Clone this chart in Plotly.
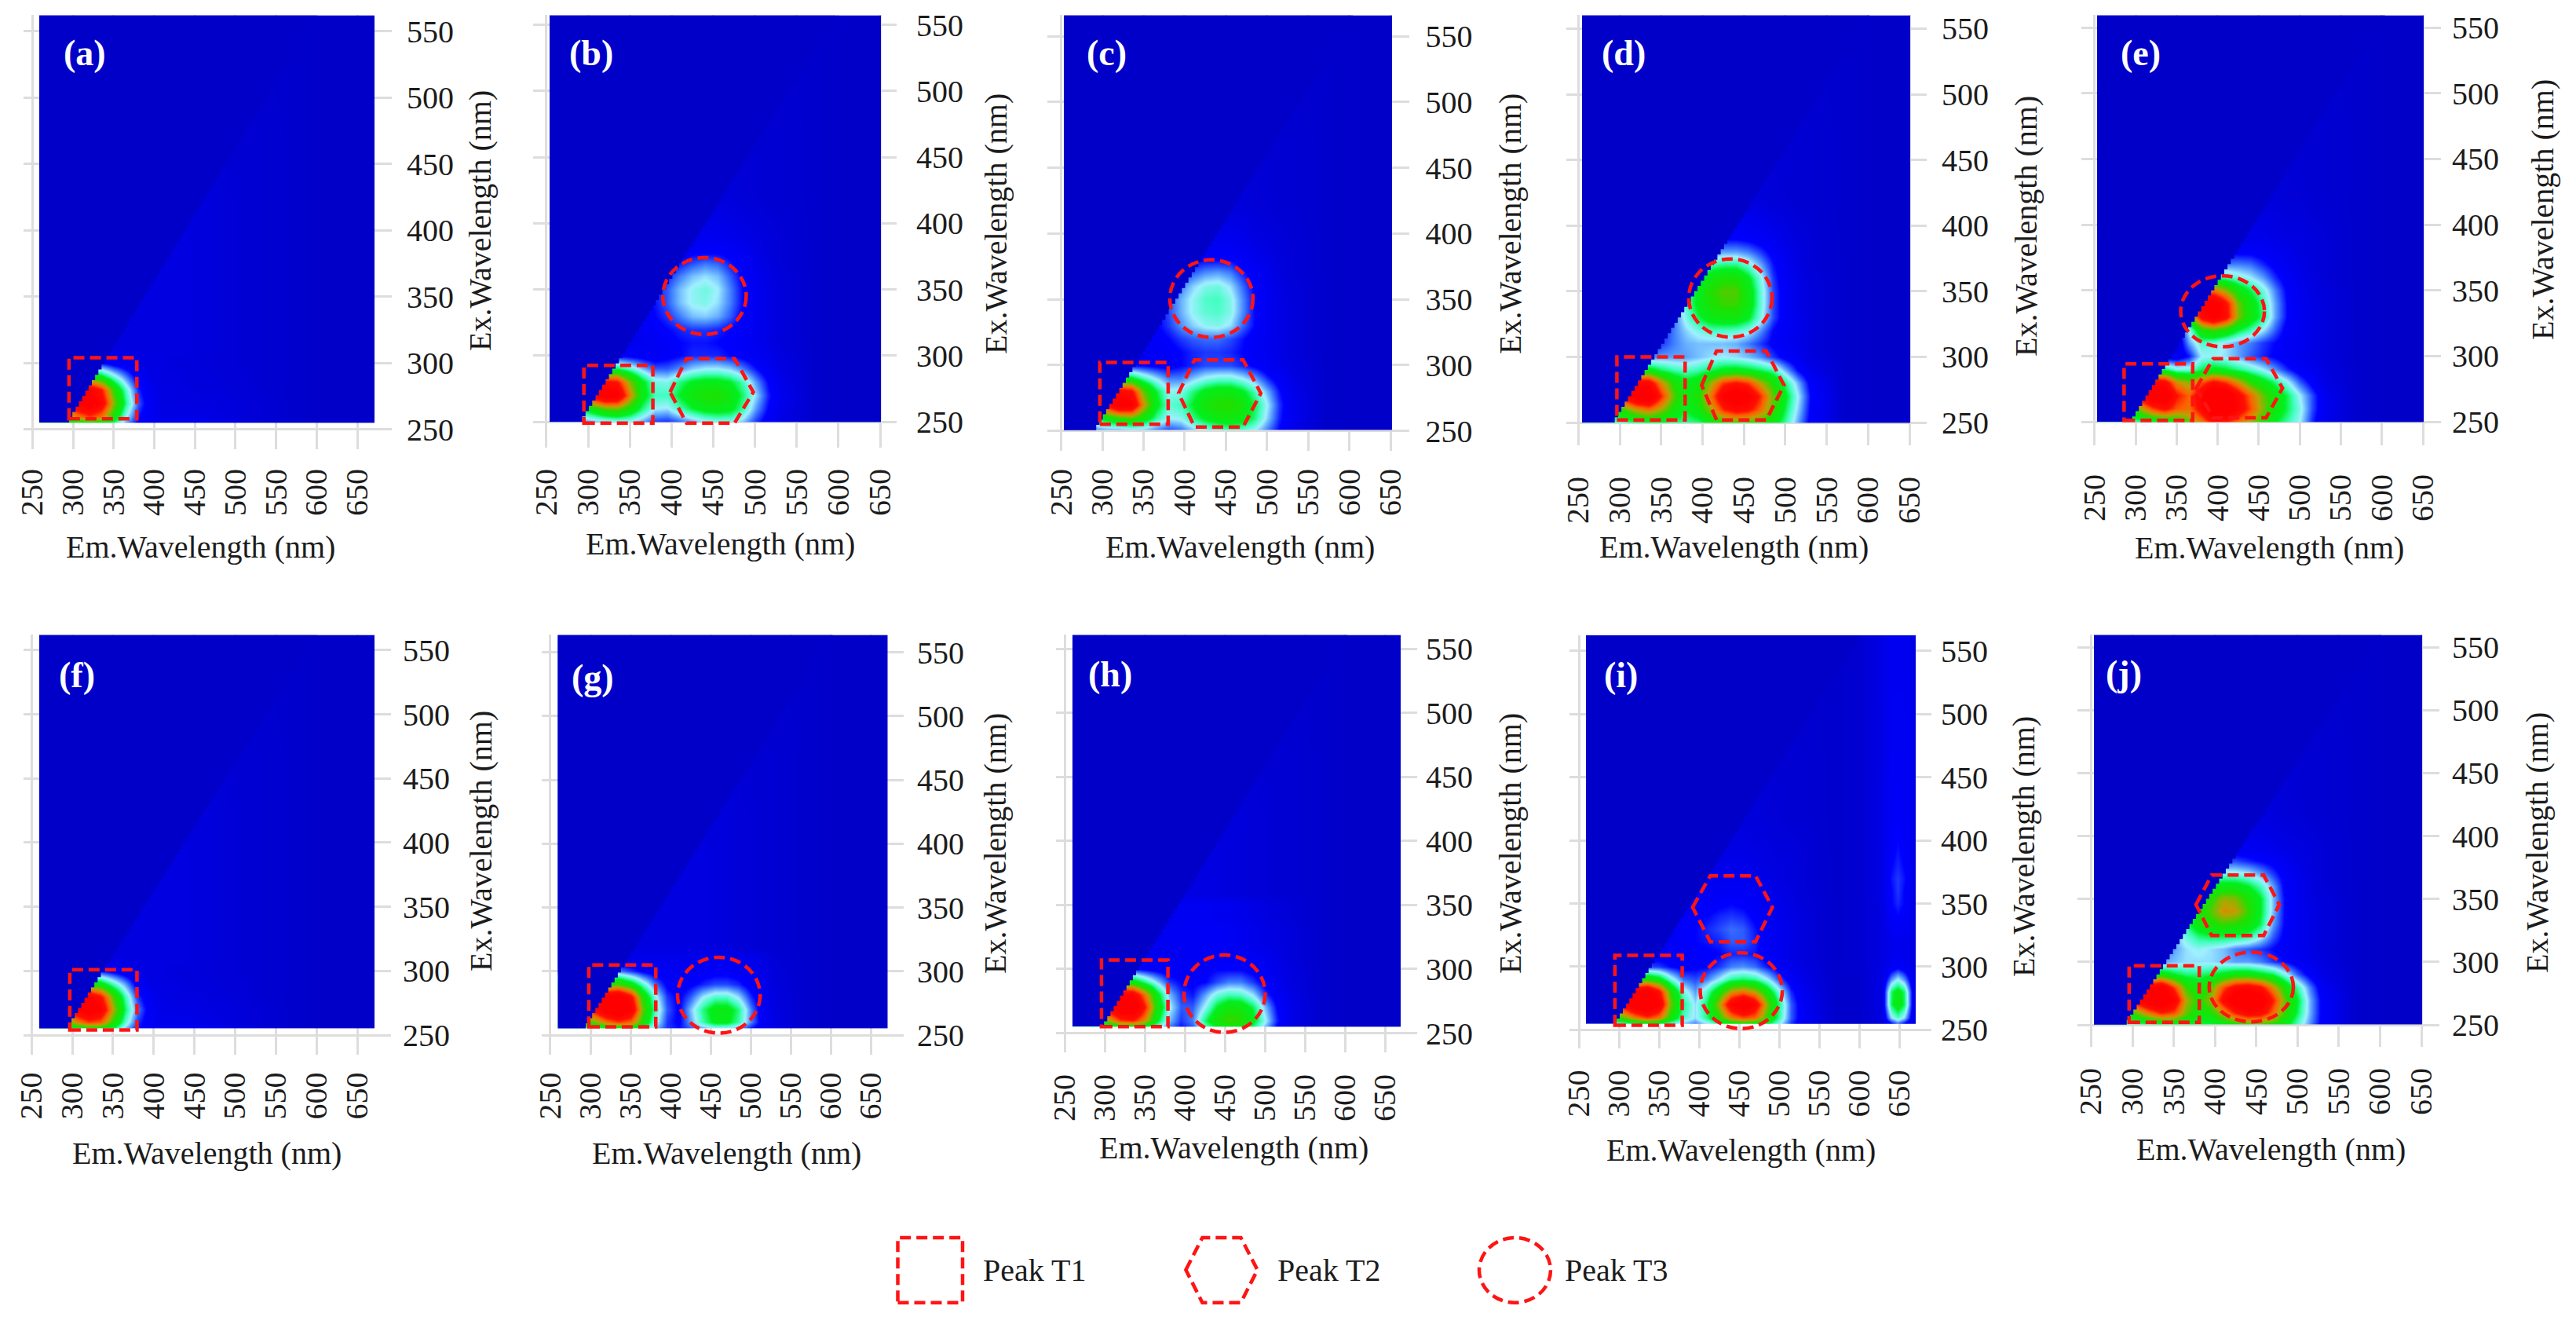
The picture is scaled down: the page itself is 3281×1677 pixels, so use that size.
import plotly.graph_objects as go

W, H = 3281, 1677
PANEL_LETTERS = ["a", "b", "c", "d", "e", "f", "g", "h", "i", "j"]
EM_TICKS = [250, 300, 350, 400, 450, 500, 550, 600, 650]
EX_TICKS = [250, 300, 350, 400, 450, 500, 550]
X_TITLE = "Em.Wavelength (nm)"
Y_TITLE = "Ex.Wavelength (nm)"
LEGEND_LABELS = ["Peak T1", "Peak T2", "Peak T3"]

# Fluorescence intensity. Columns: EM_GRID, rows: EX_GRID (bottom up).
EM_GRID = [290, 305, 320, 335, 350, 365, 380, 395, 410, 425, 440, 455, 470, 485, 500, 515, 530]
EX_GRID = [250, 260, 270, 280, 290, 300, 310, 320, 330, 340, 350, 360, 370, 380, 390]
EX_OUTER = [420, 470]
BG_LOW = [3, 3, 4, 5, 5, 5, 5, 5, 5, 5, 5, 4, 4, 3, 3, 2, 2]
BG_420 = [0, 0, 0, 1, 2, 2, 3, 4, 4, 4, 4, 4, 4, 3, 3, 2, 2]
BG_470 = [0, 0, 0, 0, 0, 0, 1, 1, 2, 2, 2, 3, 3, 3, 2, 2, 2]
BG_TOP = [0, 0, 0, 0, 0, 0, 0, 0, 0, 0, 1, 1, 1, 1, 1, 1, 1]
EM_RIGHT = [570, 610]
Z_RIGHT = [1, 0]

Z_A = [
    [40, 42, 45, 44, 35, 22, 12, 8, 8, 9, 9, 8, 7, 6, 5, 4, 3],
    [55, 70, 80, 72, 48, 28, 14, 8, 6, 6, 6, 6, 5, 5, 4, 3, 3],
    [75, 100, 110, 95, 60, 36, 18, 9, 5, 5, 5, 5, 5, 4, 4, 3, 3],
    [70, 95, 100, 85, 52, 32, 15, 8, 5, 5, 5, 4, 4, 4, 3, 3, 2],
    [40, 45, 50, 42, 30, 20, 10, 6, 5, 5, 4, 4, 4, 3, 3, 3, 2],
    [15, 15, 15, 14, 10, 8, 6, 5, 5, 4, 4, 4, 3, 3, 3, 2, 2],
]
Z_B = [
    [20, 22, 24, 26, 26, 22, 16, 15, 18, 22, 26, 28, 28, 24, 16, 10, 6],
    [38, 46, 56, 58, 48, 36, 27, 26, 33, 39, 43, 44, 42, 34, 22, 13, 7],
    [66, 92, 108, 104, 70, 44, 33, 33, 40, 47, 50, 51, 46, 37, 26, 15, 8],
    [56, 76, 90, 86, 60, 42, 30, 29, 36, 41, 43, 43, 40, 33, 22, 13, 7],
    [30, 34, 37, 38, 32, 24, 18, 18, 21, 25, 27, 27, 25, 20, 14, 9, 6],
    [10, 11, 11, 12, 11, 10, 9, 11, 13, 15, 15, 15, 13, 11, 9, 7, 5],
    [6, 6, 6, 7, 8, 8, 9, 11, 13, 14, 14, 13, 12, 10, 8, 6, 4],
    [5, 5, 6, 7, 8, 9, 11, 13, 15, 16, 16, 15, 13, 10, 8, 6, 4],
    [5, 5, 6, 7, 8, 10, 13, 16, 20, 24, 25, 23, 18, 12, 8, 6, 4],
    [5, 5, 6, 7, 8, 10, 14, 18, 24, 28, 29, 26, 20, 13, 8, 6, 4],
    [5, 5, 6, 6, 8, 10, 14, 18, 24, 28, 30, 27, 20, 13, 8, 6, 4],
    [4, 5, 5, 6, 7, 9, 12, 15, 20, 24, 26, 24, 18, 12, 8, 5, 4],
    [4, 4, 5, 5, 6, 8, 10, 11, 14, 17, 19, 18, 14, 10, 7, 5, 3],
    [4, 4, 4, 5, 5, 6, 7, 8, 10, 11, 11, 11, 10, 8, 6, 4, 3],
    [3, 4, 4, 4, 5, 5, 6, 6, 7, 8, 8, 8, 7, 6, 5, 4, 3],
]
Z_C = [
    [20, 22, 22, 24, 24, 20, 17, 19, 24, 28, 31, 33, 31, 27, 20, 13, 7],
    [36, 44, 52, 56, 46, 35, 27, 28, 35, 41, 45, 46, 44, 36, 25, 15, 8],
    [64, 88, 106, 102, 68, 43, 31, 33, 40, 48, 52, 53, 48, 38, 27, 16, 8],
    [58, 80, 94, 88, 58, 40, 28, 29, 36, 42, 45, 45, 41, 33, 23, 14, 7],
    [34, 37, 41, 41, 33, 26, 20, 20, 24, 28, 30, 30, 27, 22, 15, 10, 6],
    [13, 13, 14, 14, 13, 12, 11, 13, 15, 17, 17, 17, 15, 12, 9, 7, 5],
    [6, 6, 7, 8, 9, 10, 11, 13, 15, 16, 16, 15, 13, 10, 8, 6, 4],
    [5, 5, 6, 7, 9, 11, 13, 16, 18, 19, 19, 17, 14, 10, 8, 6, 4],
    [5, 5, 6, 7, 9, 12, 16, 21, 25, 28, 29, 26, 19, 13, 8, 6, 4],
    [5, 5, 6, 7, 9, 12, 17, 23, 28, 31, 32, 29, 21, 13, 8, 6, 4],
    [5, 5, 6, 7, 9, 12, 17, 23, 28, 32, 33, 29, 21, 13, 8, 6, 4],
    [4, 5, 5, 6, 8, 11, 15, 20, 25, 29, 30, 26, 19, 12, 8, 5, 4],
    [4, 4, 5, 5, 7, 9, 12, 15, 18, 21, 22, 20, 15, 10, 7, 5, 3],
    [4, 4, 4, 5, 6, 7, 8, 10, 12, 13, 13, 13, 10, 8, 6, 4, 3],
    [3, 4, 4, 4, 5, 5, 6, 7, 8, 9, 9, 9, 8, 6, 5, 4, 3],
]
Z_D = [
    [30, 32, 36, 38, 38, 36, 34, 36, 42, 50, 52, 52, 50, 44, 34, 22, 11],
    [44, 54, 66, 72, 62, 48, 40, 46, 62, 82, 92, 88, 74, 54, 38, 25, 12],
    [72, 90, 108, 112, 82, 56, 44, 50, 72, 100, 112, 104, 82, 58, 41, 27, 13],
    [60, 78, 96, 94, 68, 50, 42, 46, 62, 80, 86, 80, 64, 50, 36, 23, 11],
    [34, 38, 44, 44, 38, 34, 32, 34, 38, 42, 43, 41, 38, 34, 23, 13, 7],
    [14, 16, 18, 20, 22, 22, 22, 24, 26, 27, 26, 24, 21, 16, 11, 8, 5],
    [8, 9, 10, 13, 16, 20, 23, 24, 24, 24, 23, 20, 16, 12, 9, 7, 4],
    [6, 7, 9, 12, 14, 20, 25, 29, 32, 32, 31, 28, 21, 13, 9, 7, 4],
    [6, 6, 8, 10, 13, 19, 29, 38, 44, 46, 46, 41, 29, 17, 10, 7, 4],
    [5, 6, 8, 10, 13, 20, 32, 42, 50, 54, 54, 46, 31, 17, 10, 6, 4],
    [5, 6, 8, 10, 13, 20, 32, 42, 52, 56, 56, 46, 31, 17, 10, 6, 4],
    [5, 5, 7, 9, 12, 18, 28, 38, 46, 50, 50, 42, 29, 16, 9, 6, 4],
    [4, 5, 6, 8, 10, 15, 21, 28, 34, 36, 36, 31, 23, 14, 9, 5, 3],
    [4, 4, 5, 6, 8, 10, 14, 17, 20, 22, 22, 20, 16, 11, 7, 5, 3],
    [3, 4, 4, 5, 6, 7, 9, 11, 12, 13, 13, 12, 10, 8, 6, 4, 3],
]
Z_E = [
    [30, 34, 38, 40, 44, 56, 70, 88, 84, 72, 62, 50, 40, 34, 27, 15, 7],
    [46, 60, 78, 88, 76, 72, 92, 115, 112, 95, 78, 60, 46, 38, 29, 17, 8],
    [72, 95, 112, 112, 86, 74, 98, 118, 112, 92, 74, 58, 46, 38, 27, 17, 8],
    [62, 80, 96, 92, 68, 60, 76, 88, 80, 66, 52, 44, 36, 28, 18, 11, 6],
    [30, 34, 38, 38, 30, 30, 38, 42, 40, 36, 32, 27, 21, 15, 10, 8, 5],
    [6, 6, 7, 8, 8, 14, 27, 28, 26, 22, 18, 15, 12, 9, 8, 6, 4],
    [5, 5, 5, 6, 6, 22, 32, 30, 26, 22, 20, 16, 13, 10, 8, 6, 4],
    [5, 5, 5, 6, 7, 28, 50, 56, 50, 40, 34, 27, 18, 11, 8, 6, 4],
    [7, 8, 10, 12, 20, 48, 92, 105, 90, 60, 46, 36, 22, 13, 8, 6, 4],
    [6, 7, 9, 12, 20, 52, 100, 110, 88, 58, 46, 34, 22, 13, 8, 6, 4],
    [6, 7, 9, 12, 20, 44, 70, 72, 60, 46, 38, 30, 20, 12, 8, 5, 4],
    [5, 6, 8, 10, 14, 26, 36, 36, 34, 30, 27, 22, 15, 10, 7, 5, 3],
    [4, 5, 6, 8, 10, 14, 18, 19, 20, 20, 19, 15, 11, 8, 6, 4, 3],
    [4, 4, 5, 6, 7, 8, 10, 11, 11, 11, 11, 10, 8, 7, 5, 4, 3],
    [3, 4, 4, 5, 5, 6, 7, 7, 7, 7, 7, 7, 6, 5, 5, 4, 3],
]
Z_F = [
    [38, 42, 46, 46, 38, 24, 14, 9, 9, 10, 10, 9, 8, 7, 5, 4, 3],
    [50, 68, 80, 76, 52, 32, 16, 9, 7, 7, 7, 6, 6, 5, 4, 3, 3],
    [70, 98, 110, 100, 64, 38, 20, 10, 6, 6, 6, 5, 5, 4, 4, 3, 3],
    [65, 92, 102, 88, 56, 34, 16, 8, 6, 5, 5, 5, 4, 4, 3, 3, 2],
    [35, 42, 48, 44, 32, 22, 10, 6, 5, 5, 4, 4, 4, 3, 3, 3, 2],
    [12, 12, 14, 14, 11, 8, 6, 5, 5, 4, 4, 4, 3, 3, 3, 2, 2],
]
Z_G = [
    [30, 34, 38, 42, 42, 34, 24, 16, 14, 18, 22, 26, 26, 22, 14, 8, 5],
    [48, 58, 72, 80, 74, 50, 30, 16, 12, 22, 34, 42, 42, 34, 20, 10, 6],
    [72, 90, 108, 116, 100, 58, 34, 18, 12, 24, 36, 44, 44, 36, 20, 9, 5],
    [70, 88, 105, 110, 90, 50, 30, 16, 12, 18, 27, 32, 32, 26, 15, 8, 5],
    [40, 44, 52, 55, 45, 32, 20, 12, 10, 12, 15, 17, 17, 15, 10, 7, 4],
    [16, 16, 18, 20, 16, 12, 10, 9, 8, 9, 10, 11, 11, 10, 8, 6, 4],
    [6, 6, 7, 7, 7, 7, 7, 7, 7, 7, 8, 8, 8, 7, 7, 5, 3],
]
Z_H = [
    [32, 36, 42, 44, 40, 30, 20, 14, 18, 31, 40, 46, 44, 36, 24, 13, 6],
    [50, 62, 80, 84, 68, 42, 24, 16, 20, 37, 49, 55, 53, 42, 28, 15, 7],
    [72, 95, 112, 115, 85, 50, 28, 18, 18, 28, 40, 47, 46, 38, 24, 13, 7],
    [65, 85, 100, 98, 72, 44, 24, 16, 14, 22, 30, 33, 32, 26, 16, 10, 6],
    [36, 42, 48, 46, 36, 26, 16, 13, 12, 13, 17, 20, 20, 16, 11, 8, 5],
    [14, 14, 15, 15, 13, 11, 10, 10, 11, 12, 13, 13, 13, 11, 9, 7, 5],
    [6, 6, 7, 8, 8, 8, 8, 9, 9, 10, 10, 10, 10, 9, 8, 6, 4],
    [5, 5, 6, 7, 8, 8, 9, 9, 10, 10, 10, 9, 8, 7, 6, 5, 4],
    [5, 5, 6, 7, 8, 8, 9, 9, 10, 10, 10, 9, 8, 7, 6, 5, 4],
    [5, 5, 5, 6, 7, 8, 8, 9, 9, 9, 8, 8, 7, 6, 5, 4, 3],
    [5, 5, 5, 6, 7, 8, 8, 9, 9, 9, 8, 8, 7, 6, 5, 4, 3],
]
Z_I = [
    [26, 30, 34, 38, 36, 30, 24, 20, 25, 34, 42, 46, 44, 38, 28, 16, 8],
    [44, 56, 70, 80, 72, 48, 32, 26, 36, 52, 70, 78, 74, 52, 34, 18, 9],
    [72, 92, 110, 118, 100, 58, 36, 26, 38, 64, 98, 113, 96, 60, 36, 18, 9],
    [68, 86, 102, 110, 88, 52, 30, 22, 32, 48, 66, 72, 64, 46, 29, 15, 8],
    [38, 42, 46, 50, 44, 30, 19, 17, 20, 27, 35, 37, 35, 27, 17, 10, 6],
    [14, 14, 16, 17, 16, 13, 11, 12, 13, 16, 20, 21, 19, 14, 10, 7, 5],
    [7, 7, 8, 9, 10, 10, 11, 12, 12, 13, 15, 15, 14, 10, 8, 6, 4],
    [6, 6, 7, 8, 9, 10, 12, 13, 14, 15, 18, 18, 15, 10, 8, 6, 4],
    [6, 6, 7, 8, 9, 10, 12, 13, 15, 17, 19, 18, 14, 10, 8, 6, 4],
    [5, 6, 6, 7, 8, 10, 11, 12, 13, 15, 16, 15, 12, 9, 7, 6, 4],
    [5, 5, 6, 7, 8, 9, 10, 11, 11, 12, 13, 12, 10, 8, 7, 5, 4],
    [4, 5, 5, 6, 7, 8, 9, 9, 9, 10, 10, 10, 9, 7, 6, 5, 3],
    [4, 4, 5, 5, 6, 7, 8, 8, 8, 8, 8, 8, 7, 6, 5, 4, 3],
    [4, 4, 4, 5, 5, 6, 7, 7, 7, 7, 7, 7, 6, 5, 5, 4, 3],
    [3, 4, 4, 4, 5, 5, 6, 6, 6, 6, 6, 6, 5, 5, 4, 4, 3],
]
Z_J = [
    [32, 34, 36, 40, 42, 42, 38, 38, 42, 48, 52, 54, 50, 42, 32, 21, 11],
    [46, 58, 72, 84, 78, 58, 46, 50, 66, 84, 96, 92, 74, 52, 38, 23, 11],
    [74, 92, 110, 118, 98, 64, 50, 62, 92, 112, 118, 110, 84, 56, 40, 23, 11],
    [66, 82, 98, 106, 80, 54, 44, 56, 78, 92, 96, 88, 68, 48, 34, 20, 9],
    [36, 40, 44, 46, 40, 36, 36, 38, 42, 46, 46, 42, 38, 28, 18, 11, 6],
    [14, 16, 20, 22, 24, 26, 26, 26, 24, 22, 22, 20, 16, 13, 10, 7, 5],
    [8, 10, 13, 18, 22, 26, 28, 26, 24, 20, 18, 16, 13, 10, 8, 6, 4],
    [7, 9, 12, 16, 22, 30, 36, 38, 38, 37, 35, 28, 18, 11, 8, 6, 4],
    [7, 9, 12, 16, 24, 36, 46, 50, 54, 52, 48, 38, 22, 12, 8, 6, 4],
    [6, 8, 11, 15, 24, 38, 48, 56, 68, 66, 54, 40, 24, 12, 8, 6, 4],
    [6, 8, 10, 14, 22, 36, 46, 52, 62, 60, 50, 40, 24, 12, 8, 5, 4],
    [5, 7, 9, 12, 18, 28, 38, 42, 44, 44, 40, 33, 22, 11, 8, 5, 3],
    [4, 5, 7, 9, 12, 18, 24, 28, 30, 29, 27, 22, 16, 10, 7, 5, 3],
    [4, 4, 5, 6, 8, 10, 14, 16, 17, 17, 15, 13, 11, 8, 6, 4, 3],
    [3, 4, 4, 5, 5, 6, 8, 9, 9, 9, 9, 8, 7, 6, 5, 4, 3],
]
Z_PANELS = [Z_A, Z_B, Z_C, Z_D, Z_E, Z_F, Z_G, Z_H, Z_I, Z_J]

# Extra emission peak of panel (i): columns, then rows over EX_GRID + EX_OUTER + top.
EM_I_RIGHT = [600, 628, 640, 648, 656, 668]
Z_I_RIGHT = [
    [1, 4, 12, 18, 12, 5], [1, 5, 26, 32, 26, 7], [1, 6, 38, 46, 38, 8], [1, 6, 37, 44, 37, 8],
    [1, 6, 21, 27, 21, 7], [2, 5, 9, 11, 9, 6], [2, 5, 7, 8, 7, 6], [2, 5, 7, 8, 7, 6],
    [2, 5, 9, 10, 9, 6], [2, 5, 11, 13, 11, 6], [2, 5, 13, 15, 13, 6], [2, 6, 13, 16, 13, 6],
    [2, 6, 14, 16, 14, 7], [2, 6, 13, 15, 13, 7], [2, 6, 12, 14, 12, 7], [2, 6, 10, 11, 10, 7],
    [2, 6, 9, 9, 9, 7], [2, 6, 8, 8, 8, 6],
]
Z_I_EDGE = [3, 4, 5, 5, 5, 5, 5, 5, 5, 5, 5, 5, 5, 5, 5, 5, 5, 5]

# Em - Ex offset of the scattering diagonal, per panel (nm).
DIAGONAL_OFFSET = [40, 43, 42, 44, 46, 40, 39, 44, 42, 43]

# Peak outlines in wavelength units.
BOX_T1 = [(295, 378.6, 258, 304), (295, 377.7, 249, 292.6), (297, 380, 255, 302), (296.6, 379, 252, 300),
          (286, 369.6, 251, 294), (297, 379.5, 254, 301), (298, 381.5, 256.5, 305), (296, 379, 255, 307),
          (295, 379, 253.6, 309), (296, 381, 252, 297)]
# em left, em inner left, em inner right, em right, ex middle, ex top, ex bottom
HEX_T2 = {"b": (398.3, 418, 475.6, 498, 272.4, 297.7, 249), "c": (392.6, 412, 471, 492.5, 278.6, 304, 253),
          "d": (399, 417, 477, 498.5, 278.4, 304.5, 252), "e": (374, 394.5, 459, 479, 275.5, 298, 253),
          "i": (392, 414, 470.6, 491.6, 347, 372, 319.7), "j": (377, 396, 459, 478, 345.5, 369, 321)}
CIRCLE_T3 = {"b": (389.6, 489.5, 316, 374), "c": (382, 483, 321, 380), "d": (383.4, 484, 315, 374.6),
             "e": (355, 457, 307, 361), "g": (408.7, 511.6, 251.5, 311), "h": (399, 500.4, 250.6, 311),
             "i": (401.5, 504, 251, 311), "j": (393, 495, 252.4, 307.7)}

# Panel geometry in page pixels (each panel of the original has its own offset).
HEAT = [(50, 477, 19.4, 538), (700, 1122, 19.4, 537), (1355, 1773, 19.4, 547.7), (2015, 2433, 19.4, 538),
        (2671, 3087, 19.4, 537), (50, 477, 808.4, 1309.6), (710.5, 1130, 808.4, 1309.6), (1366, 1784, 808.4, 1307),
        (2020, 2440, 808.75, 1303.4), (2667, 3085, 808.4, 1304.8)]
GRID_LEFT = [30, 679, 1334, 1995, 2651, 30, 689.5, 1345, 1999, 2646]
GRID_RIGHT = [499, 1142, 1794.5, 2454, 3109, 498, 1151, 1805, 2460, 3107]
GRID_BOTTOM = [572, 570, 574, 567, 567, 1342.6, 1342.6, 1340, 1334.6, 1333]
PX_EM_300_650 = [(93, 455), (749, 1121), (1404, 1771), (2063, 2432), (2720, 3086),
                 (92, 455), (752, 1109.5), (1407, 1764), (2062, 2419), (2716, 3084)]
PX_EX_550_250 = [(39.7, 546.8), (31.5, 537), (46, 548.7), (36.4, 538), (35, 537),
                 (827.8, 1318), (830.7, 1318), (826.4, 1315.5), (828.8, 1311.4), (824, 1305)]
X_LABEL_GAP = [12, 14, 10, 27, 24, 10, 10, 15, 15, 14]
Y_LABEL_GAP = [14, 20, 16, 14, 9, 10, 12, 6, 7, 11]
LETTER_POS = [(108, 68), (753, 68), (1409, 68), (2068, 68), (2726, 68),
              (98, 860), (755, 862), (1414, 858), (2064, 859), (2705, 857)]
X_TITLE_POS = [(256, 696), (917, 693), (1579, 696), (2208, 696), (2890, 697),
               (263, 1468), (925, 1468), (1571, 1461), (2217, 1464), (2892, 1463)]
Y_TITLE_POS = [(611, 281), (1268, 285), (1923, 285), (2580, 288), (3238, 267),
               (612, 1071), (1267, 1074), (1923, 1074), (2577, 1078), (3231, 1073)]

COLORSCALE = [[0, "#0000c8"], [0.08, "#0000f0"], [0.13, "#0000ff"], [0.2, "#4080ff"], [0.27, "#a0f0ff"],
              [0.33, "#40ffc0"], [0.4, "#00f020"], [0.52, "#20e000"], [0.65, "#c0a000"], [0.75, "#ff6000"],
              [0.85, "#ff1000"], [1, "#ff0000"]]
FONT = "Liberation Serif"
TEXT = "#1c1c1c"
RED_LINE = dict(color="#ff1414", width=4.5, dash="14px,7px")


def px_x(x):
    return x / W


def px_y(y):
    return 1 - y / H


fig = go.Figure()
layout = dict(width=W, height=H, margin=dict(l=0, r=0, t=0, b=0, autoexpand=False), paper_bgcolor="white",
              plot_bgcolor="white", template="none", showlegend=False, annotations=[], shapes=[])


def note(text, x, y, size=40, color=TEXT, angle=0, bold=False):
    layout["annotations"].append(dict(text=f"<b>{text}</b>" if bold else text, xref="paper", yref="paper",
                                      x=px_x(x), y=px_y(y), xanchor="center", yanchor="middle", showarrow=False,
                                      textangle=angle, font=dict(family=FONT, size=size, color=color)))


for i, letter in enumerate(PANEL_LETTERS):
    suffix = "" if i == 0 else str(i + 1)
    xref, yref = f"x{suffix}", f"y{suffix}"
    heat_l, heat_r, heat_t, heat_b = HEAT[i]
    p300, p650 = PX_EM_300_650[i]
    p550, p250 = PX_EX_550_250[i]
    to_em = lambda p: 300 + (p - p300) * 350 / (p650 - p300)
    to_ex = lambda p: 250 + (p250 - p) * 300 / (p250 - p550)

    rows = [list(r) for r in Z_PANELS[i]]
    while len(rows) < len(EX_GRID):
        rows.append(list(BG_LOW))
    rows += [list(BG_420), list(BG_470), list(BG_TOP)]

    em_l, em_r = to_em(heat_l), to_em(heat_r)
    ex_b, ex_t = to_ex(heat_b), to_ex(heat_t)
    if letter == "i":
        x_vals = [em_l, em_l + 0.01] + EM_GRID + [570] + EM_I_RIGHT + [em_r - 0.01, em_r]
        z_rows = [[r[0], r[0]] + r + [1] + Z_I_RIGHT[k] + [Z_I_EDGE[k], Z_I_EDGE[k]] for k, r in enumerate(rows)]
    else:
        x_vals = [em_l, em_l + 0.01] + EM_GRID + EM_RIGHT + [em_r - 0.01, em_r]
        z_rows = [[r[0], r[0]] + r + Z_RIGHT + [0, 0] for r in rows]
    y_vals = [ex_b, ex_b + 0.01] + EX_GRID[1:] + EX_OUTER + [ex_t - 0.01, ex_t]
    z_all = [z_rows[0], z_rows[0]] + z_rows[1:-1] + [z_rows[-1], z_rows[-1]]

    fig.add_trace(go.Heatmap(x=x_vals, y=y_vals, z=z_all, zmin=0, zmax=100, zsmooth="best",
                             colorscale=COLORSCALE, showscale=False, hoverinfo="skip", xaxis=xref, yaxis=yref))

    # Masked region above the scattering diagonal (stepped like the measured grid).
    off = DIAGONAL_OFFSET[i]
    mask_x, mask_y = [em_l, ex_b + off], [ex_b, ex_b]
    ex_now = ex_b
    while ex_now < ex_t:
        next_ex = min(ex_now + 4, ex_t)
        mask_x += [ex_now + off, next_ex + off]
        mask_y += [next_ex, next_ex]
        ex_now = next_ex
    mask_x += [em_l, em_l]
    mask_y += [ex_t, ex_b]
    fig.add_trace(go.Scatter(x=mask_x, y=mask_y, mode="lines", fill="toself", fillcolor="#0000c8",
                             line=dict(width=0), hoverinfo="skip", xaxis=xref, yaxis=yref))

    x_left, x_right = GRID_LEFT[i], GRID_RIGHT[i]
    bottom = GRID_BOTTOM[i]
    xname = "xaxis" + suffix
    yname = "yaxis" + suffix
    axis_common = dict(showgrid=True, gridcolor="#dddddd", gridwidth=3, zeroline=False, showline=False,
                       automargin=False, ticks="outside", tickcolor="rgba(0,0,0,0)", tickwidth=1,
                       tickfont=dict(family=FONT, size=40, color=TEXT), tickmode="array")
    layout[xname] = dict(axis_common, domain=[px_x(x_left), px_x(x_right)], range=[to_em(x_left), to_em(x_right)],
                         anchor=yref, side="bottom", tickvals=EM_TICKS, ticktext=[str(v) for v in EM_TICKS],
                         tickangle=-90, ticklen=max(X_LABEL_GAP[i] - 4, 0))
    layout[yname] = dict(axis_common, domain=[px_y(bottom), px_y(heat_t)], range=[to_ex(bottom), to_ex(heat_t)],
                         anchor=xref, side="right", tickvals=EX_TICKS, ticktext=[str(v) for v in EX_TICKS],
                         tickangle=0, ticklen=max(Y_LABEL_GAP[i] - 4, 0))

    # Peak outlines
    e0, e1, x0, x1 = BOX_T1[i]
    layout["shapes"].append(dict(type="rect", xref=xref, yref=yref, x0=e0, x1=e1, y0=x0, y1=x1, line=RED_LINE))
    if letter in HEX_T2:
        a, b, c, d, m, t, u = HEX_T2[letter]
        path = f"M {a} {m} L {b} {t} L {c} {t} L {d} {m} L {c} {u} L {b} {u} Z"
        layout["shapes"].append(dict(type="path", xref=xref, yref=yref, path=path, line=RED_LINE))
    if letter in CIRCLE_T3:
        e0, e1, x0, x1 = CIRCLE_T3[letter]
        layout["shapes"].append(dict(type="circle", xref=xref, yref=yref, x0=e0, x1=e1, y0=x0, y1=x1, line=RED_LINE))

    note(f"({letter})", *LETTER_POS[i], size=46, color="white", bold=True)
    note(X_TITLE, *X_TITLE_POS[i])
    note(Y_TITLE, *Y_TITLE_POS[i], angle=-90)

# Legend
layout["shapes"].append(dict(type="rect", xref="paper", yref="paper", x0=px_x(1143.5), x1=px_x(1226),
                             y0=px_y(1658.7), y1=px_y(1576), line=RED_LINE))
hex_pts = [(1510.4, 1617), (1531.4, 1576), (1580.5, 1576), (1601.6, 1617), (1580.5, 1658.7), (1531.4, 1658.7)]
layout["shapes"].append(dict(type="path", xref="paper", yref="paper", line=RED_LINE,
                             path="M " + " L ".join(f"{px_x(a):.5f} {px_y(b):.5f}" for a, b in hex_pts) + " Z"))
layout["shapes"].append(dict(type="circle", xref="paper", yref="paper", x0=px_x(1884), x1=px_x(1975),
                             y0=px_y(1658.7), y1=px_y(1576), line=RED_LINE))
for label, center in zip(LEGEND_LABELS, [1317, 1692, 2058]):
    note(label, center, 1617)

fig.update_layout(**layout)
pin = ("var s=document.createElement('style');s.textContent='html,body{margin:0!important;padding:0;overflow:hidden}';"
       "document.head.appendChild(s);var g=document.getElementById('{plot_id}');"
       "g.style.position='fixed';g.style.left='0';g.style.top='0';")
fig.write_html("out.html", post_script=pin, config={"displayModeBar": False})
